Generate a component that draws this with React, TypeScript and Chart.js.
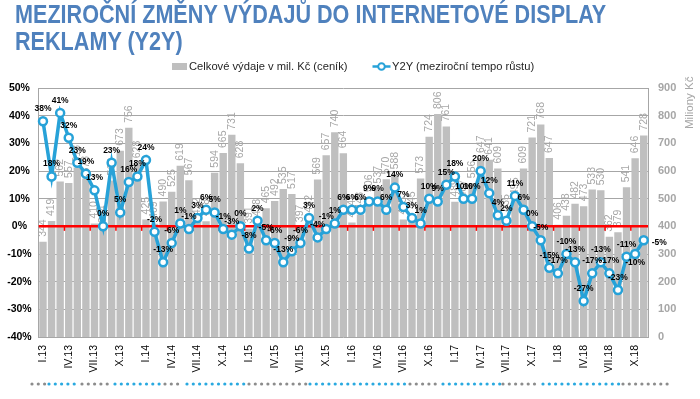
import React, { useEffect, useRef } from "react";
import { Chart, registerables } from "chart.js";

Chart.register(...registerables);

// ---- DATA ----
const categories = [
  "I.13", "II.13", "III.13", "IV.13", "V.13", "VI.13", "VII.13", "VIII.13", "IX.13", "X.13", "XI.13", "XII.13",
  "I.14", "II.14", "III.14", "IV.14", "V.14", "VI.14", "VII.14", "VIII.14", "IX.14", "X.14", "XI.14", "XII.14",
  "I.15", "II.15", "III.15", "IV.15", "V.15", "VI.15", "VII.15", "VIII.15", "IX.15", "X.15", "XI.15", "XII.15",
  "I.16", "II.16", "III.16", "IV.16", "V.16", "VI.16", "VII.16", "VIII.16", "IX.16", "X.16", "XI.16", "XII.16",
  "I.17", "II.17", "III.17", "IV.17", "V.17", "VI.17", "VII.17", "VIII.17", "IX.17", "X.17", "XI.17", "XII.17",
  "I.18", "II.18", "III.18", "IV.18", "V.18", "VI.18", "VII.18", "VIII.18", "IX.18", "X.18", "XI.18",
];

// Celkové výdaje v mil. Kč (ceník)
const spending = [
  344, 419, 562, 557, 613, 573, 410, 394, 566, 673, 756, 628,
  425, 409, 490, 525, 619, 567, 422, 418, 594, 665, 731, 628,
  391, 418, 465, 492, 535, 517, 397, 432, 569, 657, 740, 664,
  414, 443, 506, 537, 570, 588, 425, 445, 573, 724, 806, 761,
  489, 487, 556, 647, 641, 609, 435, 495, 609, 721, 768, 647,
  406, 438, 482, 473, 533, 530, 362, 379, 541, 646, 728,
];

// Y2Y (meziroční tempo růstu), %
const growth = [
  38, 18, 41, 32, 23, 19, 13, 0, 23, 5, 16, 18,
  24, -2, -13, -6, 1, -1, 3, 6, 5, -1, -3, 0,
  -8, 2, -5, -6, -13, -9, -6, 3, -4, -1, 1, 6,
  6, 6, 9, 9, 6, 14, 7, 3, 1, 10, 9, 15,
  18, 10, 10, 20, 12, 4, 2, 11, 6, 0, -5, -15,
  -17, -10, -13, -27, -17, -13, -17, -23, -11, -10, -5,
];

const leftAxis = { min: -40, max: 50, step: 10 };
const rightAxis = { min: 0, max: 900, step: 100 };

const titleLines = ["MEZIROČNÍ ZMĚNY VÝDAJŮ DO INTERNETOVÉ DISPLAY", "REKLAMY (Y2Y)"];
const legendBar = "Celkové výdaje v mil. Kč (ceník)";
const legendLine = "Y2Y (meziroční tempo růstu)";
const rightTitle = "Miliony Kč";

// decorative dotted rule: [from, to, colour]
const dotRuns: [number, number, string][] = [
  [32, 47, "#8C8C8C"], [49, 80, "#29A9E0"], [82, 113, "#8C8C8C"], [115, 163, "#29A9E0"],
  [165, 183, "#8C8C8C"], [187, 247, "#29A9E0"], [249, 307, "#8C8C8C"], [310, 407, "#29A9E0"],
  [410, 440, "#8C8C8C"], [443, 500, "#29A9E0"], [503, 540, "#8C8C8C"], [543, 620, "#29A9E0"],
  [623, 670, "#8C8C8C"],
];

const BLUE = "#27A2D8";
const GRAY_BAR = "#BFBFBF";
const GRAY_TEXT = "#A6A6A6";
const FONT = '"Liberation Sans", Arial, sans-serif';

const overlayPlugin = {
  id: "overlay",
  afterDatasetDraw(chart: any, args: any) {
    if (args.index !== 0) return;
    const ctx = chart.ctx;
    const { left, right } = chart.chartArea;
    const meta = chart.getDatasetMeta(0);
    ctx.save();
    ctx.font = `10.5px ${FONT}`;
    ctx.fillStyle = GRAY_TEXT;
    ctx.textAlign = "left";
    ctx.textBaseline = "middle";
    meta.data.forEach((bar: any, i: number) => {
      ctx.save();
      ctx.translate(bar.x, bar.y - 5);
      ctx.rotate(-Math.PI / 2);
      ctx.fillText(String(spending[i]), 0, 0);
      ctx.restore();
    });
    // red zero axis
    const y0 = chart.scales.y.getPixelForValue(0);
    ctx.strokeStyle = "#FF0000";
    ctx.lineWidth = 2.5;
    ctx.beginPath();
    ctx.moveTo(left, y0);
    ctx.lineTo(right, y0);
    ctx.stroke();
    ctx.lineWidth = 1.5;
    const w = (right - left) / categories.length;
    for (let k = 3; k < categories.length; k += 3) {
      const x = left + w * k;
      ctx.beginPath();
      ctx.moveTo(x, y0);
      ctx.lineTo(x, y0 + 4.5);
      ctx.stroke();
    }
    ctx.restore();
  },
  afterDatasetsDraw(chart: any) {
    const ctx = chart.ctx;
    const meta = chart.getDatasetMeta(1);
    ctx.save();
    ctx.font = `bold 8.5px ${FONT}`;
    ctx.fillStyle = "#000000";
    ctx.textBaseline = "middle";
    meta.data.forEach((pt: any, i: number) => {
      const txt = `${growth[i]}%`;
      if (i === categories.length - 1) {
        ctx.textAlign = "left";
        ctx.fillText(txt, pt.x + 8, pt.y + 2);
      } else if (i === categories.length - 2) {
        ctx.textAlign = "center";
        ctx.fillText(txt, pt.x, pt.y + 9);
      } else {
        ctx.textAlign = "center";
        ctx.fillText(txt, pt.x, pt.y - 12.5);
      }
    });
    ctx.restore();
  },
  afterDraw(chart: any) {
    const ctx = chart.ctx;
    ctx.save();
    ctx.font = `11.5px ${FONT}`;
    ctx.fillStyle = GRAY_TEXT;
    ctx.textAlign = "left";
    ctx.textBaseline = "middle";
    ctx.translate(690, 129);
    ctx.rotate(-Math.PI / 2);
    ctx.fillText(rightTitle, 0, 0);
    ctx.restore();
    ctx.save();
    dotRuns.forEach(([a, b, c]) => {
      ctx.fillStyle = c;
      for (let x = a; x <= b; x += 6.3) {
        ctx.beginPath();
        ctx.arc(x, 384, 1.6, 0, Math.PI * 2);
        ctx.fill();
      }
    });
    ctx.restore();
  },
};

function ChartCanvas() {
  const ref = useRef<HTMLCanvasElement | null>(null);
  useEffect(() => {
    if (!ref.current) return;
    const chart = new Chart(ref.current, {
      type: "bar",
      data: {
        labels: categories,
        datasets: [
          {
            type: "bar",
            label: legendBar,
            data: spending,
            yAxisID: "y1",
            backgroundColor: GRAY_BAR,
            borderWidth: 0,
            barPercentage: 0.86,
            categoryPercentage: 1,
            order: 1,
          },
          {
            type: "line",
            label: legendLine,
            data: growth,
            yAxisID: "y",
            borderColor: BLUE,
            borderWidth: 3.5,
            pointRadius: 4,
            pointBorderWidth: 2.5,
            pointBackgroundColor: "#FFFFFF",
            pointBorderColor: BLUE,
            tension: 0,
            order: 0,
          } as any,
        ],
      },
      options: {
        responsive: false,
        animation: false,
        layout: { padding: { top: 88, left: 0, right: 0, bottom: 0 } },
        plugins: { legend: { display: false }, title: { display: false }, tooltip: { enabled: false } },
        scales: {
          x: {
            type: "category",
            offset: true,
            grid: { display: false, drawTicks: false },
            border: { display: false },
            ticks: {
              autoSkip: false,
              minRotation: 90,
              maxRotation: 90,
              padding: 8,
              color: "#000000",
              font: { family: FONT, size: 10.5 },
              callback: (_v: any, i: number) => (i % 3 === 0 ? categories[i] : ""),
            },
            afterFit: (s: any) => {
              s.height = 62;
            },
          },
          y: {
            position: "left",
            min: leftAxis.min,
            max: leftAxis.max,
            grid: { color: "#A6A6A6", lineWidth: 1, drawTicks: false },
            border: { display: true, color: "#A6A6A6" },
            ticks: {
              stepSize: leftAxis.step,
              crossAlign: "center",
              padding: 7,
              color: "#000000",
              font: { family: FONT, size: 10.5, weight: "bold" },
              callback: (v: any) => `${v}%`,
            },
            afterFit: (s: any) => {
              s.width = 38.7;
            },
          },
          y1: {
            position: "right",
            min: rightAxis.min,
            max: rightAxis.max,
            grid: { display: false, drawTicks: false },
            border: { display: true, color: "#A6A6A6" },
            ticks: {
              stepSize: rightAxis.step,
              padding: 10,
              color: GRAY_TEXT,
              font: { family: FONT, size: 11, weight: "bold" },
            },
            afterFit: (s: any) => {
              s.width = 52;
            },
          },
        },
      } as any,
      plugins: [overlayPlugin],
    });
    return () => chart.destroy();
  }, []);
  return <canvas ref={ref} width={700} height={399} style={{ position: "absolute", left: 0, top: 0 }} />;
}

export default function App() {
  return (
    <div style={{ position: "absolute", left: 0, top: 0, width: 700, height: 399, background: "#FFFFFF", overflow: "hidden" }}>
      <ChartCanvas />
      <div
        style={{
          position: "absolute",
          left: 15,
          top: 1,
          fontFamily: FONT,
          fontWeight: "bold",
          fontSize: 25.5,
          lineHeight: "27px",
          color: "#4F81BD",
          whiteSpace: "nowrap",
          transform: "scaleX(0.847)",
          transformOrigin: "0 0",
        }}
      >
        <div>{titleLines[0]}</div>
        <div>{titleLines[1]}</div>
      </div>
      <div style={{ position: "absolute", left: 172, top: 62.5, width: 14.5, height: 7.5, background: GRAY_BAR }} />
      <div
        style={{
          position: "absolute",
          left: 189,
          top: 60,
          fontFamily: FONT,
          fontSize: 11.2,
          lineHeight: "13px",
          color: "#262626",
          whiteSpace: "nowrap",
        }}
      >
        {legendBar}
      </div>
      <svg style={{ position: "absolute", left: 372, top: 60 }} width={19} height={13}>
        <line x1={0.5} y1={6.5} x2={18.5} y2={6.5} stroke={BLUE} strokeWidth={2.5} />
        <circle cx={9.5} cy={6.5} r={3.3} fill="#FFFFFF" stroke={BLUE} strokeWidth={2} />
      </svg>
      <div
        style={{
          position: "absolute",
          left: 392,
          top: 60,
          fontFamily: FONT,
          fontSize: 11.2,
          lineHeight: "13px",
          color: "#262626",
          whiteSpace: "nowrap",
        }}
      >
        {legendLine}
      </div>
    </div>
  );
}
